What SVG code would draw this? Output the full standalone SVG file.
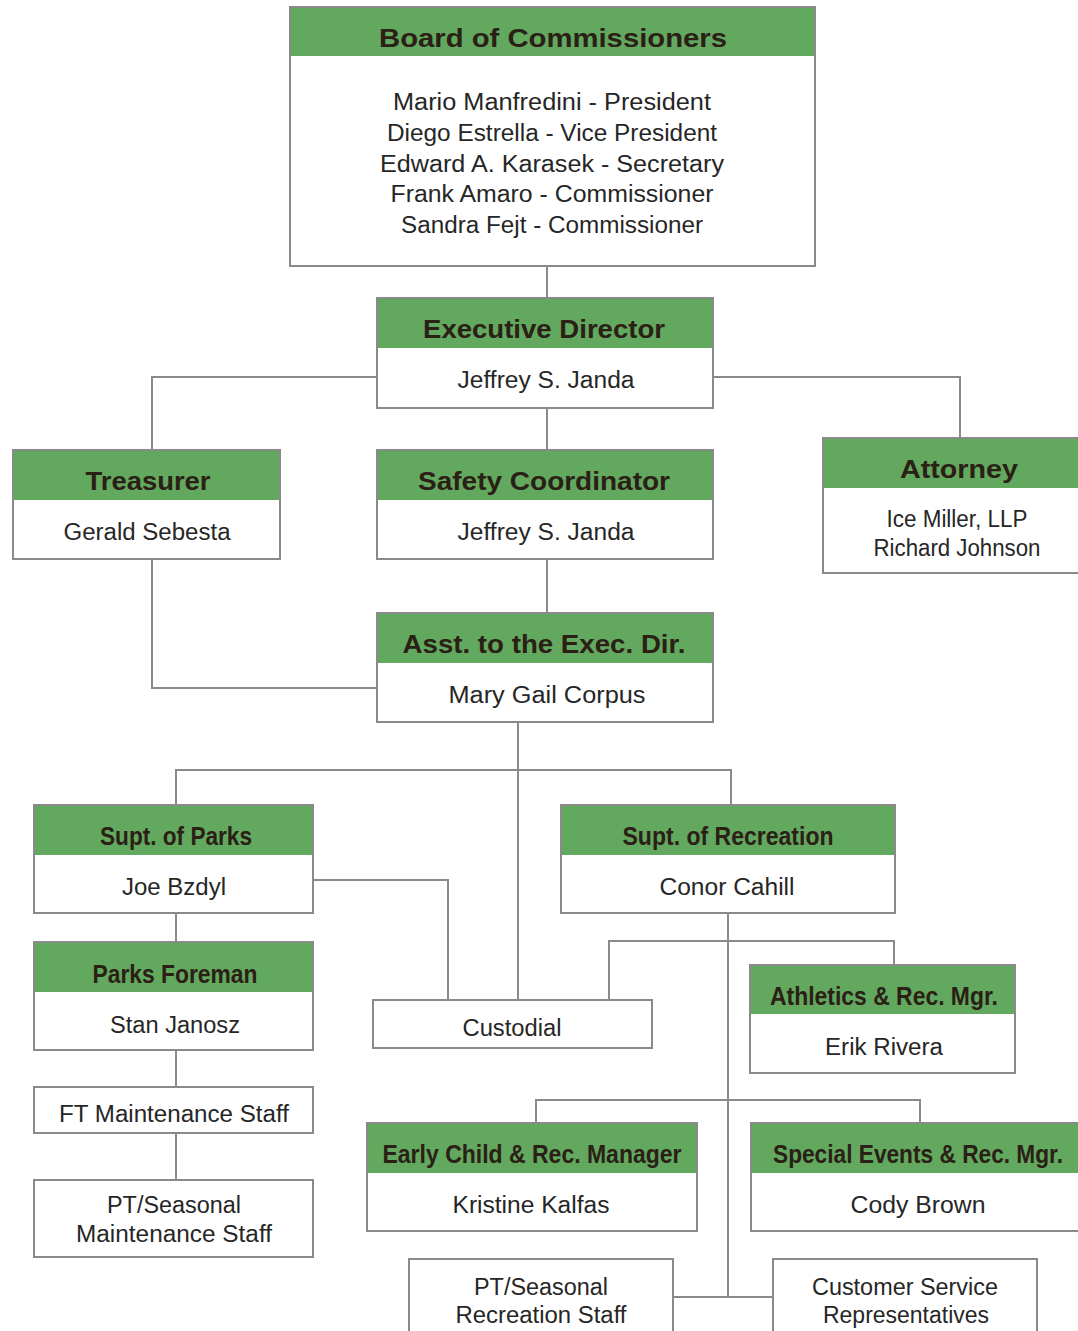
<svg xmlns="http://www.w3.org/2000/svg" width="1078" height="1331" viewBox="0 0 1078 1331">
<style>
.box{fill:#fff;stroke:#8a8a8a;stroke-width:2}
.hd{fill:#62a85e}
.t{font-family:"Liberation Sans",Arial,sans-serif;font-weight:bold;font-size:26px;fill:#2b2016;text-anchor:middle}
.n{font-family:"Liberation Sans",Arial,sans-serif;font-size:23px;fill:#262626;text-anchor:middle}
.c{fill:none;stroke:#8a8a8a;stroke-width:2}
</style>
<rect width="1078" height="1331" fill="#fff"/>
<g id="connectors" class="c">
<path d="M547 266V298"/>
<path d="M377 377H152V450"/>
<path d="M713 377H960V438"/>
<path d="M547 408V450"/>
<path d="M547 559V613"/>
<path d="M152 559V688H377"/>
<path d="M518 722V1000"/>
<path d="M176 805V770H731V805"/>
<path d="M313 880H448V1000"/>
<path d="M176 913V942"/>
<path d="M176 1050V1087"/>
<path d="M176 1133V1180"/>
<path d="M728 913V1297"/>
<path d="M609 1000V941H894V965"/>
<path d="M536 1123V1100H920V1123"/>
<path d="M673 1297H773"/>
</g>
<g id="board">
<rect class="box" x="290" y="7" width="525" height="259"/>
<rect class="hd" x="291" y="8" width="523" height="48"/>
<text class="t" x="553" y="47" font-size="28" textLength="348" lengthAdjust="spacingAndGlyphs">Board of Commissioners</text>
<text class="n" x="552" y="110" textLength="318" lengthAdjust="spacingAndGlyphs">Mario Manfredini - President</text>
<text class="n" x="552" y="141" textLength="330" lengthAdjust="spacingAndGlyphs">Diego Estrella - Vice President</text>
<text class="n" x="552" y="172" textLength="344" lengthAdjust="spacingAndGlyphs">Edward A. Karasek - Secretary</text>
<text class="n" x="552" y="202" textLength="323" lengthAdjust="spacingAndGlyphs">Frank Amaro - Commissioner</text>
<text class="n" x="552" y="233" textLength="302" lengthAdjust="spacingAndGlyphs">Sandra Fejt - Commissioner</text>
</g>
<g id="exec">
<rect class="box" x="377" y="298" width="336" height="110"/>
<rect class="hd" x="378" y="299" width="334" height="49"/>
<text class="t" x="544" y="338" textLength="242" lengthAdjust="spacingAndGlyphs">Executive Director</text>
<text class="n" x="546" y="388" textLength="177" lengthAdjust="spacingAndGlyphs">Jeffrey S. Janda</text>
</g>
<g id="treasurer">
<rect class="box" x="13" y="450" width="267" height="109"/>
<rect class="hd" x="14" y="451" width="265" height="49"/>
<text class="t" x="148" y="490" textLength="125" lengthAdjust="spacingAndGlyphs">Treasurer</text>
<text class="n" x="147" y="540" textLength="167" lengthAdjust="spacingAndGlyphs">Gerald Sebesta</text>
</g>
<g id="safety">
<rect class="box" x="377" y="450" width="336" height="109"/>
<rect class="hd" x="378" y="451" width="334" height="49"/>
<text class="t" x="544" y="490" textLength="252" lengthAdjust="spacingAndGlyphs">Safety Coordinator</text>
<text class="n" x="546" y="540" textLength="177" lengthAdjust="spacingAndGlyphs">Jeffrey S. Janda</text>
</g>
<g id="attorney">
<rect class="box" x="823" y="438" width="270" height="135"/>
<rect class="hd" x="824" y="439" width="268" height="49"/>
<text class="t" x="959" y="478" textLength="118" lengthAdjust="spacingAndGlyphs">Attorney</text>
<text class="n" x="957" y="527" textLength="141" lengthAdjust="spacingAndGlyphs">Ice Miller, LLP</text>
<text class="n" x="957" y="556" textLength="167" lengthAdjust="spacingAndGlyphs">Richard Johnson</text>
</g>
<g id="asst">
<rect class="box" x="377" y="613" width="336" height="109"/>
<rect class="hd" x="378" y="614" width="334" height="49"/>
<text class="t" x="544" y="653" textLength="283" lengthAdjust="spacingAndGlyphs">Asst. to the Exec. Dir.</text>
<text class="n" x="547" y="703" textLength="197" lengthAdjust="spacingAndGlyphs">Mary Gail Corpus</text>
</g>
<g id="supt-parks">
<rect class="box" x="34" y="805" width="279" height="108"/>
<rect class="hd" x="35" y="806" width="277" height="49"/>
<text class="t" x="176" y="845" textLength="152" lengthAdjust="spacingAndGlyphs">Supt. of Parks</text>
<text class="n" x="174" y="895" textLength="104" lengthAdjust="spacingAndGlyphs">Joe Bzdyl</text>
</g>
<g id="supt-rec">
<rect class="box" x="561" y="805" width="334" height="108"/>
<rect class="hd" x="562" y="806" width="332" height="49"/>
<text class="t" x="728" y="845" textLength="211" lengthAdjust="spacingAndGlyphs">Supt. of Recreation</text>
<text class="n" x="727" y="895" textLength="135" lengthAdjust="spacingAndGlyphs">Conor Cahill</text>
</g>
<g id="parks-foreman">
<rect class="box" x="34" y="942" width="279" height="108"/>
<rect class="hd" x="35" y="943" width="277" height="49"/>
<text class="t" x="175" y="983" textLength="165" lengthAdjust="spacingAndGlyphs">Parks Foreman</text>
<text class="n" x="175" y="1033" textLength="130" lengthAdjust="spacingAndGlyphs">Stan Janosz</text>
</g>
<g id="ft-maint">
<rect class="box" x="34" y="1087" width="279" height="46"/>
<text class="n" x="174" y="1122" textLength="230" lengthAdjust="spacingAndGlyphs">FT Maintenance Staff</text>
</g>
<g id="pt-maint">
<rect class="box" x="34" y="1180" width="279" height="77"/>
<text class="n" x="174" y="1213" textLength="134" lengthAdjust="spacingAndGlyphs">PT/Seasonal</text>
<text class="n" x="174" y="1242" textLength="196" lengthAdjust="spacingAndGlyphs">Maintenance Staff</text>
</g>
<g id="custodial">
<rect class="box" x="373" y="1000" width="279" height="48"/>
<text class="n" x="512" y="1036" textLength="99" lengthAdjust="spacingAndGlyphs">Custodial</text>
</g>
<g id="athletics">
<rect class="box" x="750" y="965" width="265" height="108"/>
<rect class="hd" x="751" y="966" width="263" height="48"/>
<text class="t" x="884" y="1005" textLength="228" lengthAdjust="spacingAndGlyphs">Athletics &amp; Rec. Mgr.</text>
<text class="n" x="884" y="1055" textLength="118" lengthAdjust="spacingAndGlyphs">Erik Rivera</text>
</g>
<g id="early-child">
<rect class="box" x="367" y="1123" width="330" height="108"/>
<rect class="hd" x="368" y="1124" width="328" height="49"/>
<text class="t" x="532" y="1163" textLength="299" lengthAdjust="spacingAndGlyphs">Early Child &amp; Rec. Manager</text>
<text class="n" x="531" y="1213" textLength="157" lengthAdjust="spacingAndGlyphs">Kristine Kalfas</text>
</g>
<g id="special-events">
<rect class="box" x="751" y="1123" width="340" height="108"/>
<rect class="hd" x="752" y="1124" width="338" height="49"/>
<text class="t" x="918" y="1163" textLength="290" lengthAdjust="spacingAndGlyphs">Special Events &amp; Rec. Mgr.</text>
<text class="n" x="918" y="1213" textLength="135" lengthAdjust="spacingAndGlyphs">Cody Brown</text>
</g>
<g id="pt-rec">
<rect class="box" x="409" y="1259" width="264" height="90"/>
<text class="n" x="541" y="1295" textLength="134" lengthAdjust="spacingAndGlyphs">PT/Seasonal</text>
<text class="n" x="541" y="1323" textLength="171" lengthAdjust="spacingAndGlyphs">Recreation Staff</text>
</g>
<g id="customer-service">
<rect class="box" x="773" y="1259" width="264" height="90"/>
<text class="n" x="905" y="1295" textLength="186" lengthAdjust="spacingAndGlyphs">Customer Service</text>
<text class="n" x="906" y="1323" textLength="166" lengthAdjust="spacingAndGlyphs">Representatives</text>
</g>
</svg>
